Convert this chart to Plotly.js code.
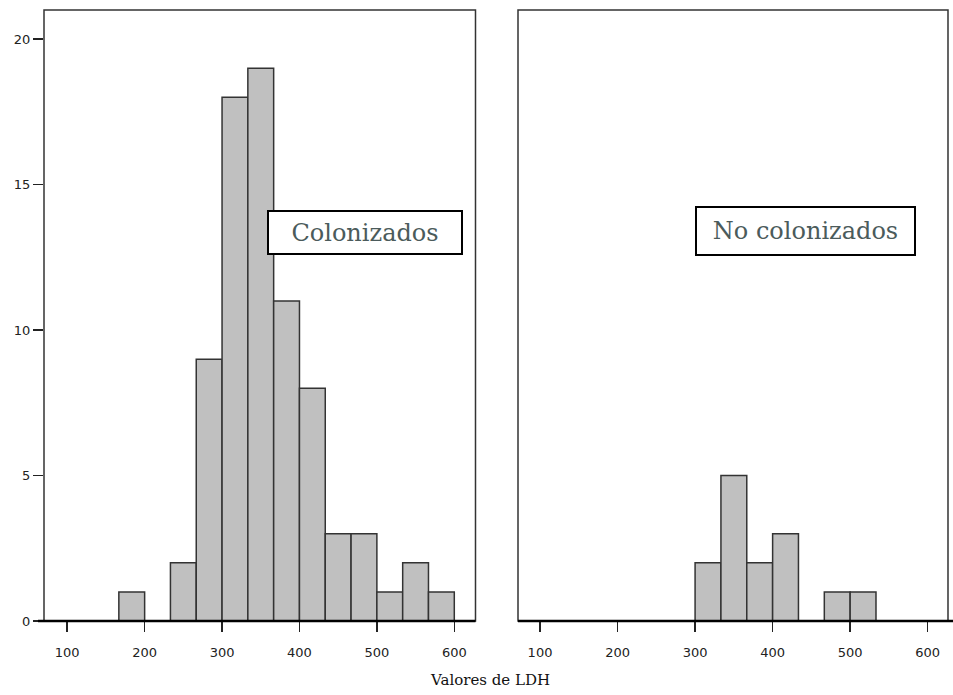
<!DOCTYPE html>
<html>
<head>
<meta charset="utf-8">
<script src="https://cdn.plot.ly/plotly-3.0.1.min.js"></script>
<style>html,body{margin:0;padding:0;background:#fff;}#chart{width:953px;height:695px;}</style>
</head>
<body>
<div id="chart"></div>
<script>
// Histogram bins (LDH values), bin width 100/3
const binWidth = 100 / 3;
const binStarts = [166.67, 200, 233.33, 266.67, 300, 333.33, 366.67, 400, 433.33, 466.67, 500, 533.33, 566.67];
const colonizados = [1, 0, 2, 9, 18, 19, 11, 8, 3, 3, 1, 2, 1];
const noColonizados = [0, 0, 0, 0, 2, 5, 2, 3, 0, 1, 1, 0, 0];
const panelLabels = ["Colonizados", "No colonizados"];
const xTickVals = [100, 200, 300, 400, 500, 600];
const yTickVals = [0, 5, 10, 15, 20];
const xTitle = "Valores de LDH";

const binCenters = binStarts.map(b => b + binWidth / 2);
const barStyle = { color: "#c0c0c0", line: { color: "#333333", width: 1.5 } };

const traces = [
  { type: "bar", x: binCenters, y: colonizados, width: binWidth, marker: barStyle, xaxis: "x", yaxis: "y", hoverinfo: "x+y" },
  { type: "bar", x: binCenters, y: noColonizados, width: binWidth, marker: barStyle, xaxis: "x2", yaxis: "y2", hoverinfo: "x+y" }
];

const tickFont = { family: "DejaVu Sans", size: 13, color: "#222" };
const xCommon = {
  tickvals: xTickVals, ticks: "outside", ticklen: 10, tickwidth: 1.5, tickcolor: "#222",
  tickfont: tickFont, showgrid: false, zeroline: false, showline: false, ticklabelstandoff: 9
};

const frame = (xr, yr, extL, extR) => [
  { type: "rect", xref: xr + " domain", yref: yr + " domain", x0: 0, x1: 1, y0: 0, y1: 1,
    line: { color: "#333", width: 1.5 }, layer: "above" },
  { type: "line", xref: xr + " domain", yref: yr + " domain", x0: extL, x1: extR, y0: 0, y1: 0,
    line: { color: "#000", width: 2.5 }, layer: "above" }
];

const annFont = { family: "DejaVu Serif", size: 24, color: "#4b5b5b" };

const layout = {
  width: 953, height: 695,
  margin: { l: 0, r: 0, t: 10, b: 74 },
  paper_bgcolor: "#fff", plot_bgcolor: "#fff",
  showlegend: false, bargap: 0,
  xaxis: Object.assign({}, xCommon, { domain: [0.04617, 0.49895], range: [70, 627.4], anchor: "y" }),
  xaxis2: Object.assign({}, xCommon, { domain: [0.54355, 0.99475], range: [71.6, 626.2], anchor: "y2" }),
  yaxis: { domain: [0, 1], range: [0, 21], tickvals: yTickVals, ticks: "outside", ticklen: 10, tickwidth: 1.5,
           tickcolor: "#222", tickfont: tickFont, showgrid: false, zeroline: false, showline: false, anchor: "x" },
  yaxis2: { domain: [0, 1], range: [0, 21], showticklabels: false, ticks: "", showgrid: false, zeroline: false,
            showline: false, anchor: "x2" },
  shapes: [].concat(frame("x", "y", -0.014, 1.0), frame("x2", "y2", 0, 1.012)),
  annotations: [
    { xref: "x", yref: "y", x: 484.7, y: 13.36, text: panelLabels[0], showarrow: false, font: annFont,
      bgcolor: "#fff", bordercolor: "#000", borderwidth: 2, borderpad: 0, width: 192, height: 41,
      xanchor: "center", yanchor: "middle" },
    { xref: "x2", yref: "y2", x: 443, y: 13.39, text: panelLabels[1], showarrow: false, font: annFont,
      bgcolor: "#fff", bordercolor: "#000", borderwidth: 2, borderpad: 0, width: 217, height: 46,
      xanchor: "center", yanchor: "middle" },
    { xref: "paper", yref: "paper", x: 0.514, y: -0.0966, text: xTitle, showarrow: false,
      font: { family: "DejaVu Serif", size: 15, color: "#111" }, xanchor: "center", yanchor: "middle" }
  ]
};

Plotly.newPlot("chart", traces, layout, { displayModeBar: false, staticPlot: true });
</script>
</body>
</html>
